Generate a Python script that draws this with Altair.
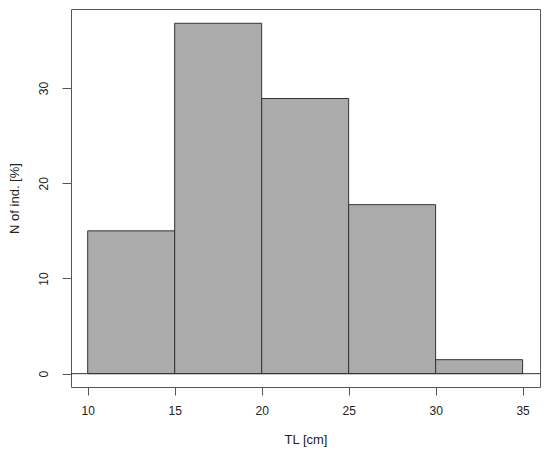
import altair as alt
import pandas as pd

bin_start = [10, 15, 20, 25, 30]
bin_end = [15, 20, 25, 30, 35]
percent = [15.0, 36.8, 28.9, 17.75, 1.47]

df = pd.DataFrame({"start": bin_start, "end": bin_end, "pct": percent})

W, H = 469, 378
font = "Liberation Sans"

xscale = alt.Scale(domain=[9.04, 36.0], nice=False, zero=False)
yscale = alt.Scale(domain=[-1.4, 38.3], nice=False, zero=False)

bars = alt.Chart(df).mark_bar(
    color="#ababab", stroke="#333333", strokeWidth=1, binSpacing=0
).encode(
    x=alt.X("start:Q", scale=xscale, title="TL [cm]",
            axis=alt.Axis(values=[10, 15, 20, 25, 30, 35], grid=False, domain=False,
                          tickSize=8, tickColor="#555555", labelPadding=10,
                          labelFont=font, labelFontSize=12, labelColor="#222222",
                          titleFont=font, titleFontSize=13, titleFontWeight="normal",
                          titleColor="#222222", titlePadding=17)),
    x2="end:Q",
    y=alt.Y("pct:Q", scale=yscale, title="N of ind. [%]",
            axis=alt.Axis(values=[0, 10, 20, 30], grid=False, domain=False,
                          tickSize=9, tickColor="#555555", labelAngle=-90,
                          labelAlign="center", labelBaseline="bottom", labelPadding=12,
                          labelFont=font, labelFontSize=12, labelColor="#222222",
                          titleFont=font, titleFontSize=13, titleFontWeight="normal",
                          titleColor="#222222", titlePadding=16)),
    y2=alt.datum(0),
)

zero = pd.DataFrame({"y": [0]})
rule = alt.Chart(zero).mark_rule(color="#333333", strokeWidth=1).encode(
    y=alt.Y("y:Q", scale=yscale)
)

chart = alt.layer(bars, rule).properties(
    width=W, height=H,
    autosize=alt.AutoSizeParams(type="none"),
    padding={"left": 63, "top": 1, "right": 2, "bottom": 60},
).configure_view(stroke="#555555", strokeWidth=1)

chart.save("out.html", embed_options={"renderer": "svg", "actions": False})
